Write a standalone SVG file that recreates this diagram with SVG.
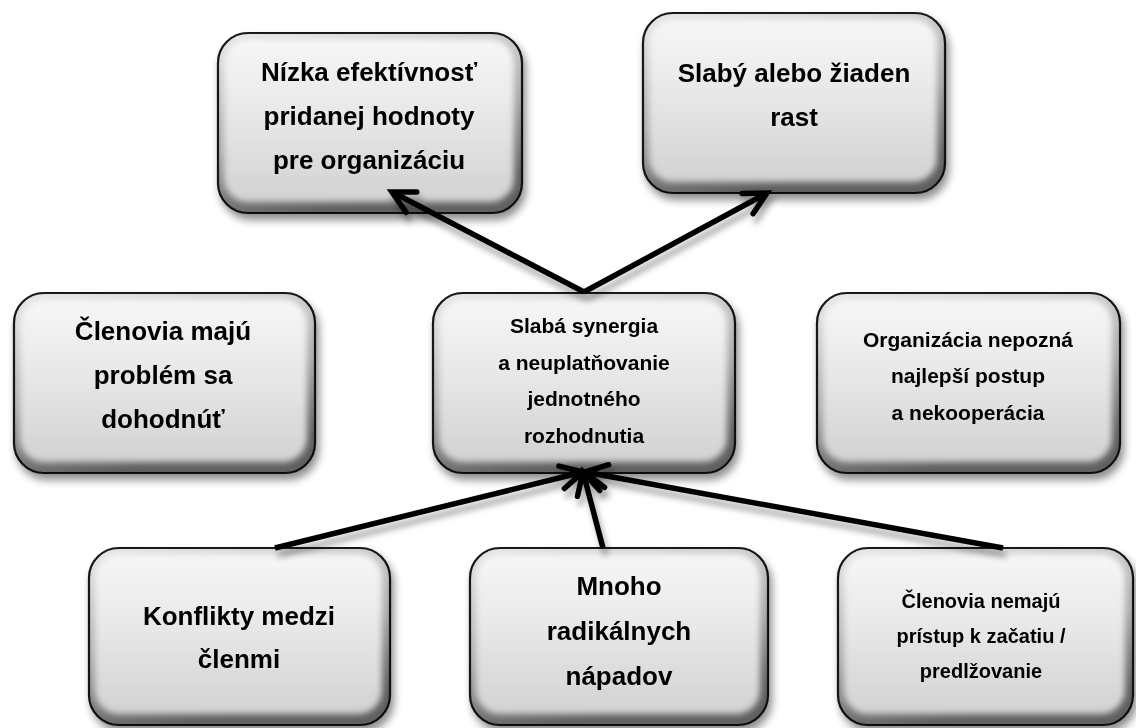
<svg xmlns="http://www.w3.org/2000/svg" width="1136" height="728" viewBox="0 0 1136 728">
<defs>
  <linearGradient id="edge" x1="0" y1="0" x2="0.3" y2="1">
    <stop offset="0" stop-color="#e6e6e6"/>
    <stop offset="0.6" stop-color="#aaaaaa"/>
    <stop offset="1" stop-color="#606060"/>
  </linearGradient>
  <linearGradient id="face" x1="0" y1="0" x2="0" y2="1">
    <stop offset="0" stop-color="#f7f7f7"/>
    <stop offset="0.5" stop-color="#e6e6e6"/>
    <stop offset="1" stop-color="#d2d2d2"/>
  </linearGradient>
  <filter id="shadow" x="-10%" y="-10%" width="125%" height="130%">
    <feGaussianBlur in="SourceAlpha" stdDeviation="4"/>
    <feOffset dx="3" dy="6" result="b"/>
    <feComponentTransfer><feFuncA type="linear" slope="0.45"/></feComponentTransfer>
    <feMerge><feMergeNode/><feMergeNode in="SourceGraphic"/></feMerge>
  </filter>
  <filter id="soft" x="-10%" y="-10%" width="120%" height="120%">
    <feGaussianBlur stdDeviation="3"/>
  </filter>
  <filter id="lshadow" x="-10%" y="-20%" width="120%" height="140%">
    <feGaussianBlur in="SourceAlpha" stdDeviation="3"/>
    <feOffset dx="3" dy="7"/>
    <feComponentTransfer><feFuncA type="linear" slope="0.35"/></feComponentTransfer>
    <feMerge><feMergeNode/><feMergeNode in="SourceGraphic"/></feMerge>
  </filter>
  <marker id="arrow" markerUnits="userSpaceOnUse" viewBox="-30 -16 36 32" refX="-4" refY="0" markerWidth="36" markerHeight="32" orient="auto">
    <path d="M-22,-11.5 L0,0 L-22,11.5" fill="none" stroke="#000" stroke-width="5.5" stroke-linejoin="miter" stroke-linecap="round"/>
  </marker>
</defs>
<style>
  .box { fill: url(#edge); stroke: #111; stroke-width: 2.2; }
  .face { fill: url(#face); filter: url(#soft); }
  text { font-family: "Liberation Sans", Arial, sans-serif; font-weight: bold; fill: #000; text-anchor: middle; }
  .t26 { font-size: 26px; }
  .t21 { font-size: 21px; }
  .t20 { font-size: 20px; }
  .conn { stroke: #000; stroke-width: 5.5; fill: none; marker-end: url(#arrow); }
</style>
<rect width="1136" height="728" fill="#fff"/>

<g id="n-nizka" filter="url(#shadow)">
  <rect class="box" x="218" y="33" width="304" height="180" rx="30"/>
  <rect class="face" x="224" y="39" width="290" height="163" rx="24"/>
  <text class="t26" x="369" y="81">Nízka efektívnosť</text>
  <text class="t26" x="369" y="125">pridanej hodnoty</text>
  <text class="t26" x="369" y="169">pre organizáciu</text>
</g>

<g id="n-slaby" filter="url(#shadow)">
  <rect class="box" x="643" y="13" width="302" height="180" rx="30"/>
  <rect class="face" x="649" y="19" width="288" height="163" rx="24"/>
  <text class="t26" x="794" y="82">Slabý alebo žiaden</text>
  <text class="t26" x="794" y="126">rast</text>
</g>

<g id="n-clenovia-maju" filter="url(#shadow)">
  <rect class="box" x="14" y="293" width="301" height="180" rx="30"/>
  <rect class="face" x="20" y="299" width="287" height="163" rx="24"/>
  <text class="t26" x="163" y="340">Členovia majú</text>
  <text class="t26" x="163" y="384">problém sa</text>
  <text class="t26" x="163" y="428">dohodnúť</text>
</g>

<g id="n-synergia" filter="url(#shadow)">
  <rect class="box" x="433" y="293" width="302" height="180" rx="30"/>
  <rect class="face" x="439" y="299" width="288" height="163" rx="24"/>
  <text class="t21" x="584" y="333">Slabá synergia</text>
  <text class="t21" x="584" y="370">a neuplatňovanie</text>
  <text class="t21" x="584" y="406">jednotného</text>
  <text class="t21" x="584" y="443">rozhodnutia</text>
</g>

<g id="n-organizacia" filter="url(#shadow)">
  <rect class="box" x="817" y="293" width="303" height="180" rx="30"/>
  <rect class="face" x="823" y="299" width="289" height="163" rx="24"/>
  <text class="t21" x="968" y="347">Organizácia nepozná</text>
  <text class="t21" x="968" y="383">najlepší postup</text>
  <text class="t21" x="968" y="420">a nekooperácia</text>
</g>

<g id="n-konflikty" filter="url(#shadow)">
  <rect class="box" x="89" y="548" width="301" height="177" rx="30"/>
  <rect class="face" x="95" y="554" width="287" height="160" rx="24"/>
  <text class="t26" x="239" y="625">Konflikty medzi</text>
  <text class="t26" x="239" y="668">členmi</text>
</g>

<g id="n-mnoho" filter="url(#shadow)">
  <rect class="box" x="470" y="548" width="298" height="177" rx="30"/>
  <rect class="face" x="476" y="554" width="284" height="160" rx="24"/>
  <text class="t26" x="619" y="595">Mnoho</text>
  <text class="t26" x="619" y="640">radikálnych</text>
  <text class="t26" x="619" y="685">nápadov</text>
</g>

<g id="n-pristup" filter="url(#shadow)">
  <rect class="box" x="838" y="548" width="295" height="177" rx="30"/>
  <rect class="face" x="844" y="554" width="281" height="160" rx="24"/>
  <text class="t20" x="981" y="608">Členovia nemajú</text>
  <text class="t20" x="981" y="643">prístup k začatiu /</text>
  <text class="t20" x="981" y="678">predlžovanie</text>
</g>

<g id="connectors" filter="url(#lshadow)">
  <line class="conn" x1="584" y1="292" x2="395.5" y2="193.8"/>
  <line class="conn" x1="584" y1="292" x2="763.4" y2="195"/>
  <line class="conn" x1="275" y1="548" x2="579.1" y2="473"/>
  <line class="conn" x1="603" y1="548" x2="584" y2="475.9"/>
  <line class="conn" x1="1003" y1="548" x2="588.9" y2="472.8"/>
</g>
</svg>
